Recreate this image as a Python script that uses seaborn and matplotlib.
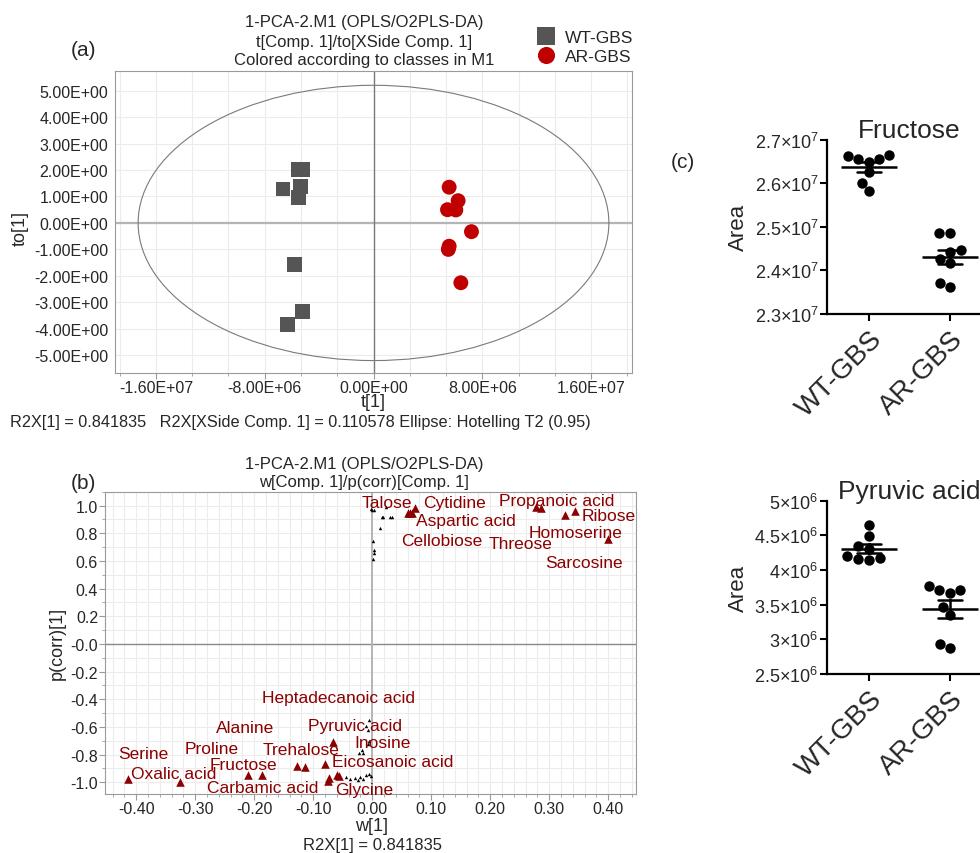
import numpy as np
import pandas as pd
import seaborn as sns
import matplotlib.pyplot as plt
from matplotlib.patches import Ellipse
from matplotlib.ticker import MultipleLocator, FuncFormatter

# ---- panel (a): OPLS-DA scores ----
groups = ["WT-GBS", "AR-GBS"]
wt_t = [-5.5e6, -5.25e6, -6.65e6, -5.35e6, -5.5e6, -5.8e6, -5.2e6, -6.3e6]
wt_to = [2.01, 2.01, 1.28, 1.37, 0.97, -1.57, -3.35, -3.84]
ar_t = [5.56e6, 6.22e6, 5.44e6, 6.05e6, 7.2e6, 5.56e6, 5.5e6, 6.42e6]
ar_to = [1.35, 0.84, 0.50, 0.49, -0.33, -0.88, -1.0, -2.26]
ellipse_t, ellipse_to = 1.73e7, 5.2

# ---- panel (b): S-plot loadings ----
sig_w = [-0.414, -0.326, -0.210, -0.187, -0.128, -0.114, -0.080, -0.067, -0.073, -0.075, -0.059, -0.056,
         0.072, 0.060, 0.064, 0.068, 0.278, 0.286, 0.326, 0.343, 0.400]
sig_p = [-0.976, -0.996, -0.947, -0.945, -0.88, -0.89, -0.868, -0.706, -0.971, -0.99, -0.947, -0.955,
         0.981, 0.945, 0.945, 0.945, 0.993, 0.98, 0.933, 0.957, 0.759]
other_w = [-0.003, 0.0, 0.003, 0.016, 0.018, 0.013, 0.030, 0.033, 0.023, 0.001, 0.003, 0.003, 0.001,
           -0.006, -0.010, -0.007, -0.005, -0.008, -0.018, -0.022, -0.015,
           -0.045, -0.038, -0.030, -0.025, -0.020, -0.015, -0.010, -0.006, -0.003]
other_p = [0.976, 0.97, 0.97, 0.916, 0.916, 0.84, 0.92, 0.92, 0.988, 0.743, 0.68, 0.66, 0.61,
           -0.55, -0.59, -0.62, -0.70, -0.72, -0.77, -0.785, -0.79,
           -0.96, -0.975, -0.97, -0.985, -0.96, -0.975, -0.95, -0.94, -0.955]
names = ["Serine", "Oxalic acid", "Proline", "Alanine", "Fructose", "Carbamic acid", "Trehalose",
         "Heptadecanoic acid", "Pyruvic acid", "Inosine", "Eicosanoic acid", "Glycine",
         "Talose", "Cytidine", "Aspartic acid", "Cellobiose", "Threose", "Propanoic acid",
         "Ribose", "Homoserine", "Sarcosine"]
name_w = [-0.388, -0.336, -0.272, -0.215, -0.218, -0.185, -0.121, -0.058, -0.030, 0.018, 0.034, -0.013,
          0.025, 0.139, 0.158, 0.117, 0.251, 0.313, 0.400, 0.345, 0.359]
name_p = [-0.795, -0.940, -0.754, -0.602, -0.875, -1.041, -0.764, -0.385, -0.591, -0.716, -0.851, -1.054,
          1.025, 1.025, 0.892, 0.747, 0.723, 1.036, 0.925, 0.805, 0.591]
p_ticks = [-1.0, -0.8, -0.6, -0.4, -0.2, 0.0, 0.2, 0.4, 0.6, 0.8, 1.0]
p_tick_labels = ["-1.0", "-0.8", "-0.6", "-0.4", "-0.2", "-0.0", "0.2", "0.4", "0.6", "0.8", "1.0"]
w_ticks = [-0.4, -0.3, -0.2, -0.1, 0.0, 0.1, 0.2, 0.3, 0.4]

# ---- panel (c): metabolite areas ----
fructose_wt = [2.663e7, 2.655e7, 2.649e7, 2.655e7, 2.6645e7, 2.625e7, 2.600e7, 2.581e7]
fructose_ar = [2.4865e7, 2.4865e7, 2.4424e7, 2.4461e7, 2.4179e7, 2.4271e7, 2.3624e7, 2.3716e7]
pyruvic_wt = [4.648e6, 4.494e6, 4.302e6, 4.350e6, 4.148e6, 4.197e6, 4.168e6, 4.158e6]
pyruvic_ar = [3.715e6, 3.773e6, 3.668e6, 3.711e6, 3.462e6, 3.350e6, 2.869e6, 2.931e6]

W, H = 980, 854
sns.set_style("white")
plt.rcParams["font.family"] = ["Liberation Sans", "DejaVu Sans"]
plt.rcParams["mathtext.fontset"] = "custom"
plt.rcParams["mathtext.rm"] = "Liberation Sans"
plt.rcParams["mathtext.it"] = "Liberation Sans:italic"

fig = plt.figure(figsize=(9.8, 8.54), dpi=100)


def box(left, top, right, bottom):
    # pixel box -> figure fraction
    return [left / W, 1 - bottom / H, (right - left) / W, (bottom - top) / H]


def ftext(px, py, s, **kw):
    fig.text(px / W, 1 - py / H, s, ha=kw.pop("ha", "center"), va=kw.pop("va", "center"), **kw)


grey = "#9a9a9a"

# ================= (a) =================
ax_a = fig.add_axes(box(115, 72, 632, 374))
df_a = pd.DataFrame({"t": wt_t + ar_t, "to": wt_to + ar_to,
                     "group": [groups[0]] * len(wt_t) + [groups[1]] * len(ar_t)})
ax_a.add_patch(Ellipse((0, 0), 2 * ellipse_t, 2 * ellipse_to, fill=False, ec="#7a7a7a", lw=0.8, zorder=2))
ax_a.axhline(0, color="#b5b5b5", lw=1.6, zorder=1)
ax_a.axvline(0, color="#7a7a7a", lw=1.0, zorder=1)
sns.scatterplot(data=df_a, x="t", y="to", hue="group", style="group",
                markers={"WT-GBS": "s", "AR-GBS": "o"},
                palette={"WT-GBS": "#555555", "AR-GBS": "#c00000"},
                s=115, linewidth=0, ax=ax_a, zorder=3)
ax_a.set_xlim(-1.9e7, 1.9e7)
ax_a.set_ylim(-5.67, 5.74)
ax_a.set_xticks([-1.6e7, -8e6, 0, 8e6, 1.6e7])
ax_a.set_yticks(range(-5, 6))
ax_a.xaxis.set_major_formatter(FuncFormatter(lambda v, p: f"{v:.2E}"))
ax_a.yaxis.set_major_formatter(FuncFormatter(lambda v, p: f"{v:.2E}"))
ax_a.xaxis.set_minor_locator(MultipleLocator(8e6 / 3))
ax_a.grid(which="both", color="#ececec", lw=0.8)
ax_a.set_axisbelow(True)
ax_a.tick_params(axis="y", length=0, labelsize=11.5, pad=5)
ax_a.tick_params(axis="x", which="both", bottom=True, direction="out", color=grey, labelsize=11.5, pad=1)
ax_a.tick_params(axis="x", which="major", length=4)
ax_a.tick_params(axis="x", which="minor", length=2.5)
for sp in ax_a.spines.values():
    sp.set_color(grey)
ax_a.set_xlabel("")
ax_a.set_ylabel("")
sns.move_legend(ax_a, "upper left", bbox_to_anchor=(520 / W, 1 - 22 / H), bbox_transform=fig.transFigure,
                frameon=False, title=None, fontsize=12.5, handletextpad=0.1, labelspacing=0.25,
                borderpad=0, markerscale=1.15)

ftext(364, 23, "1-PCA-2.M1 (OPLS/O2PLS-DA)", fontsize=12)
ftext(364, 42, "t[Comp. 1]/to[XSide Comp. 1]", fontsize=12)
ftext(364, 61, "Colored according to classes in M1", fontsize=12)
ftext(83, 50, "(a)", fontsize=15)
ftext(20, 228, "to[1]", fontsize=13, rotation=90)
ftext(373, 403, "t[1]", fontsize=13)
ftext(10, 423, "R2X[1] = 0.841835   R2X[XSide Comp. 1] = 0.110578 Ellipse: Hotelling T2 (0.95)",
      fontsize=11.7, ha="left")

# ================= (b) =================
ax_b = fig.add_axes(box(105, 492.7, 636, 795.3))
ax_b.axhline(0, color="#8a8a8a", lw=1.0, zorder=1)
ax_b.axvline(0, color="#b5b5b5", lw=1.4, zorder=1)
sns.scatterplot(x=other_w, y=other_p, marker="^", color="black", s=6, linewidth=0, ax=ax_b, zorder=3)
sns.scatterplot(x=sig_w, y=sig_p, marker="^", color="#8b0000", s=38, linewidth=0, ax=ax_b, zorder=3)
for n, x, y in zip(names, name_w, name_p):
    ax_b.text(x, y, n, color="#8b0000", fontsize=12.5, ha="center", va="center", zorder=4)
ax_b.set_xlim(-0.453, 0.447)
ax_b.set_ylim(-1.087, 1.10)
ax_b.set_xticks(w_ticks)
ax_b.set_xticklabels([f"{v:.2f}" for v in w_ticks])
ax_b.set_yticks(p_ticks)
ax_b.set_yticklabels(p_tick_labels)
ax_b.xaxis.set_minor_locator(MultipleLocator(0.02))
ax_b.yaxis.set_minor_locator(MultipleLocator(0.1))
ax_b.grid(which="both", color="#ececec", lw=0.8)
ax_b.set_axisbelow(True)
ax_b.tick_params(which="both", bottom=True, left=True, direction="out", color=grey, labelsize=11.5, pad=1)
ax_b.tick_params(which="major", length=4)
ax_b.tick_params(which="minor", length=2.5)
for sp in ax_b.spines.values():
    sp.set_color(grey)

ftext(364, 465, "1-PCA-2.M1 (OPLS/O2PLS-DA)", fontsize=12)
ftext(364, 483, "w[Comp. 1]/p(corr)[Comp. 1]", fontsize=12)
ftext(83, 484, "(b)", fontsize=15)
ftext(57, 643, "p(corr)[1]", fontsize=13, rotation=90)
ftext(372, 827, "w[1]", fontsize=13)
ftext(372, 846, "R2X[1] = 0.841835", fontsize=12)

# ================= (c) / (d) =================


def sci_label(v, pos):
    mant, exp = f"{v:e}".split("e")
    return rf"${float(mant):g}{{\times}}10^{{{int(exp)}}}$"


def dot_plot(ax, wt, ar, title, ylim, step):
    df = pd.DataFrame({"group": [groups[0]] * len(wt) + [groups[1]] * len(ar), "area": wt + ar})
    sns.swarmplot(data=df, x="group", y="area", order=groups, color="black", size=7.5, ax=ax, zorder=3)
    sns.pointplot(data=df, x="group", y="area", order=groups, errorbar="se", color="black",
                  marker="_", markersize=40, markeredgewidth=1.8, linestyle="none", capsize=0.3,
                  err_kws={"linewidth": 1.8}, ax=ax, zorder=4)
    ax.set_xlim(-0.515, 1.515)
    ax.set_ylim(*ylim)
    ax.set_yticks(np.arange(ylim[0], ylim[1] + step / 2, step))
    ax.yaxis.set_major_formatter(FuncFormatter(sci_label))
    ax.set_xticks(range(len(groups)))
    ax.set_xticklabels(groups, rotation=45, ha="right", va="top", rotation_mode="anchor", fontsize=20)
    ax.set_xlabel("")
    ax.set_ylabel("Area", fontsize=16, labelpad=4)
    ax.set_title(title, fontsize=19, pad=2)
    sns.despine(ax=ax)
    for sp in ["left", "bottom"]:
        ax.spines[sp].set_linewidth(1.6)
        ax.spines[sp].set_color("black")
    ax.tick_params(axis="both", length=5, width=1.5, color="black", direction="out",
                   bottom=True, left=True)
    ax.tick_params(axis="y", labelsize=13, pad=1)


ax_c = fig.add_axes(box(827, 140.5, 991.6, 315))
dot_plot(ax_c, fructose_wt, fructose_ar, "Fructose", (2.3e7, 2.7e7), 0.1e7)
ax_d = fig.add_axes(box(827, 501.6, 991.6, 675))
dot_plot(ax_d, pyruvic_wt, pyruvic_ar, "Pyruvic acid", (2.5e6, 5e6), 0.5e6)
ftext(683, 163, "(c)", fontsize=15)

fig.savefig("out.png", dpi=100)
